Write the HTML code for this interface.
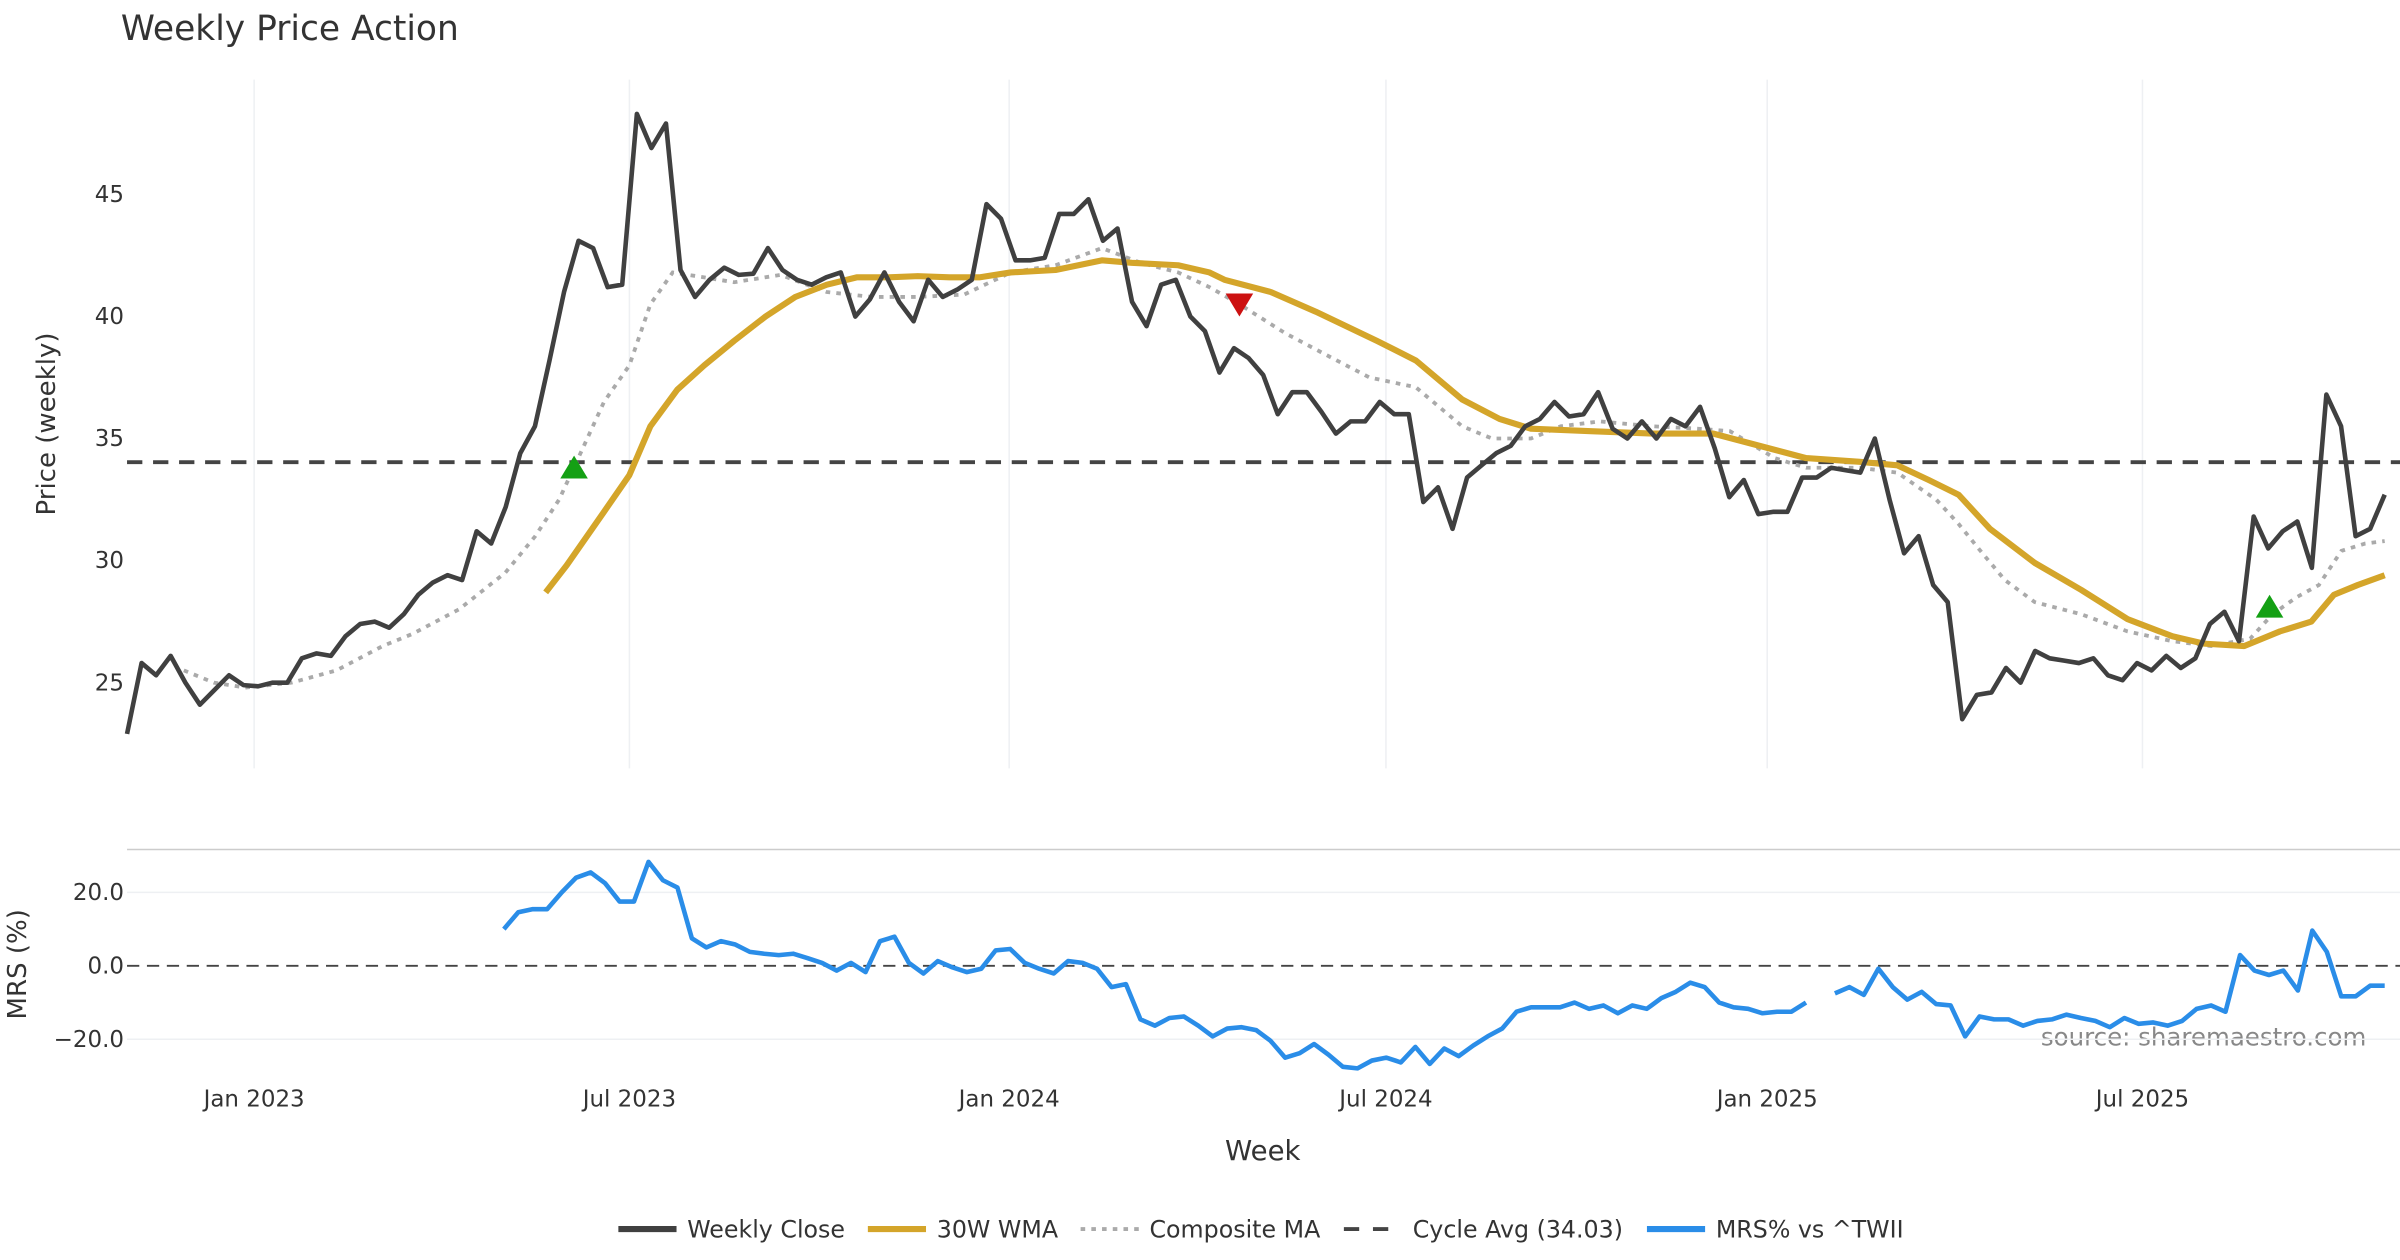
<!DOCTYPE html>
<html><head><meta charset="utf-8">
<style>
html,body{margin:0;padding:0;background:#fff;}
svg{display:block;font-family:"DejaVu Sans","Liberation Sans",sans-serif;}
</style></head>
<body>
<svg id="chart" width="2400" height="1260" viewBox="0 0 1568 823.2" xmlns="http://www.w3.org/2000/svg">
<text x="79" y="26" font-size="22.5" fill="#333">Weekly Price Action</text>
<text transform="translate(36,277) rotate(-90)" text-anchor="middle" font-size="17" fill="#333">Price (weekly)</text>
<text transform="translate(17,630) rotate(-90)" text-anchor="middle" font-size="17" fill="#333">MRS (%)</text>
<text x="825" y="758" text-anchor="middle" font-size="18" fill="#333">Week</text>
<text x="1546" y="683" text-anchor="end" font-size="16" fill="#888">source: sharemaestro.com</text>
<line x1="83" y1="555" x2="1568" y2="555" stroke="#ccc" stroke-width="1"/>
<g id="grid"></g>
<g id="series"></g>
<g id="legend"></g>
</svg>
<script>
const closeVals=[22.9,25.8,25.3,26.1,25,24.1,24.7,25.3,24.9,24.85,25,25,26.0,26.2,26.1,26.9,27.4,27.5,27.25,27.8,28.6,29.1,29.4,29.2,31.2,30.7,32.2,34.4,35.5,38.2,41,43.1,42.8,41.2,41.3,48.3,46.9,47.9,41.9,40.8,41.5,42,41.7,41.75,42.8,41.9,41.5,41.3,41.6,41.8,40,40.7,41.8,40.6,39.8,41.5,40.8,41.1,41.5,44.6,44,42.3,42.3,42.4,44.2,44.2,44.8,43.1,43.6,40.6,39.6,41.3,41.5,40.0,
39.4,37.7,38.7,38.3,37.6,36,36.9,36.9,36.1,35.2,35.7,35.7,36.5,36,36,32.4,33,31.3,33.4,33.9,34.4,34.7,35.5,35.8,36.5,35.9,36,36.9,35.4,35,35.7,35,35.8,35.5,36.3,34.6,32.6,33.3,31.9,32,32,33.4,33.4,33.8,33.7,33.6,35,32.5,30.3,31,29,28.3,23.5,24.5,24.6,25.6,25,26.3,26,25.9,25.8,26,25.3,25.1,25.8,25.5,26.1,25.6,26,27.4,27.9,26.7,31.8,30.5,31.2,31.6,29.7,36.8,35.5,31,31.3,32.7];
const wmaWeeks=[28,29.4,31.9,33.6,35,36.8,38.6,40.6,42.7,44.7,46.8,48.8,50.9,52.9,55,57,59.1,62.1,65.2,67.2,70.3,72.4,73.4,76.5,79.5,83.6,86.2,89.3,91.8,93.9,97.9,102,106.1,109.2,112.3,115.9,118.4,120.5,122.5,124.6,127.6,130.7,133.8,136.8,138.9,141.6,144,146.1,147.6,149.2,151];
const wmaVals=[28.7,29.8,32,33.5,35.5,37,38,39,40,40.8,41.3,41.6,41.6,41.65,41.6,41.6,41.8,41.9,42.3,42.2,42.1,41.8,41.5,41,40.2,39,38.2,36.6,35.8,35.4,35.3,35.2,35.2,34.7,34.2,34.05,33.9,33.3,32.7,31.3,29.9,28.8,27.6,26.9,26.6,26.5,27.1,27.5,28.6,29,29.4];
const compWeeks=[3.8,5.8,7.9,11,14,17.1,19.1,22.2,25.3,27.3,28.9,30.4,31.9,33.6,35,36.5,38.6,40.6,43.7,46.8,49.8,52.9,56,59.1,62.1,65.2,67.8,70.3,72.4,74.4,77.5,80.6,83.1,86.2,89.3,91.3,93.9,95.9,98.5,102,105.1,107.2,110.2,112.3,115.9,118.4,121,122.5,124.1,125.6,127.6,130.7,133.8,136.8,139.4,142,143.5,145.1,146.6,148.1,149.7,151];
const compVals=[25.5,25,24.8,25,25.5,26.5,27,28,29.5,31,32.5,34.5,36.5,38,40.5,41.8,41.6,41.4,41.7,41,40.8,40.8,40.9,41.8,42.1,42.8,42.2,41.8,41.2,40.5,39.3,38.3,37.5,37.1,35.5,35,35,35.5,35.7,35.5,35.4,35.3,34.2,33.8,33.8,33.6,32.5,31.5,30.3,29.2,28.3,27.8,27.1,26.7,26.5,26.8,27.8,28.5,29,30.4,30.7,30.8];
const mrsVals=[10,14.6,15.4,15.4,20,24,25.4,22.5,17.5,17.5,28.3,23.3,21.3,7.5,5,6.7,5.8,3.8,3.3,2.9,3.3,2.1,0.8,-1.3,0.8,-1.7,6.7,7.9,0.8,-2.1,1.3,-0.4,-1.7,-0.8,4.2,4.6,0.8,-0.8,-2.1,1.3,0.8,-0.8,-5.8,-5,-14.6,-16.3,-14.2,-13.8,-16.3,-19.2,-17.1,-16.7,-17.5,-20.4,-25,-23.8,-21.3,-24.2,-27.5,-27.9,-25.8,-25,-26.3,-22.1,-26.7,-22.5,-24.6,-21.7,-19.2,-17.1,-12.5,-11.3,-11.3,-11.3,-10,-11.7,-10.8,-12.9,-10.8,-11.7,-8.8,-7.1,-4.6,-5.8,-10,-11.3,-11.7,-12.9,-12.5,-12.5,-10,null,-7.5,-5.8,-7.9,-0.8,-5.8,-9.2,-7.1,-10.4,-10.8,-19.2,-13.8,-14.6,-14.6,-16.3,-15,-14.6,-13.3,-14.2,-15,-16.7,-14.2,-15.8,-15.4,-16.3,-15,-11.7,-10.8,-12.5,2.9,-1.3,-2.5,-1.3,-6.7,9.6,3.8,-8.3,-8.3,-5.4,-5.4];
const mrsStartWeek=25.2;
const cycleAvg=34.03;
const buyWeeks=[29.9,143.3];
const buyVals=[33.8,28.1];
const sellWeeks=[74.4];
const sellVals=[40.5];
const priceTicks=[25,30,35,40,45];
const mrsTicks=[20,0,-20];
const mrsTickLabels=["20.0","0.0","\u221220.0"];
const dateTickWeeks=[8.5,33.6,59,84.2,109.7,134.8];
const dateTickLabels=["Jan 2023","Jul 2023","Jan 2024","Jul 2024","Jan 2025","Jul 2025"];

const NS="http://www.w3.org/2000/svg";
const X0=83,X1=1558,WMAX=151;
const xs=w=>X0+(w/WMAX)*(X1-X0);
const ys=v=>446-(v-25)*15.95;
const ym=v=>631-v*2.4;
function mk(tag,attrs,parent){const e=document.createElementNS(NS,tag);for(const k in attrs)e.setAttribute(k,attrs[k]);parent.appendChild(e);return e;}
const grid=document.getElementById('grid'),ser=document.getElementById('series'),leg=document.getElementById('legend');

dateTickWeeks.forEach((w,i)=>{
  const l=mk('line',{x1:xs(w),x2:xs(w),y1:52,y2:502,stroke:'#eef0f3','stroke-width':1},grid);
  
  
  const t=mk('text',{x:xs(w),y:723,'text-anchor':'middle','font-size':15,fill:'#333'},grid);
  t.textContent=dateTickLabels[i];
  
  
});
priceTicks.forEach(v=>{
  const t=mk('text',{x:81,y:ys(v)+5,'text-anchor':'end','font-size':15,fill:'#333'},grid);
  t.textContent=v;
  
  
});
mrsTicks.forEach((v,i)=>{
  if(v!==0){const l=mk('line',{x1:83,x2:1568,y1:ym(v),y2:ym(v),stroke:'#eef0f3','stroke-width':1},grid);
  
  }
  const t=mk('text',{x:81,y:ym(v)+5,'text-anchor':'end','font-size':15,fill:'#333'},grid);
  t.textContent=mrsTickLabels[i];
  
  
});
const z=mk('line',{x1:83,x2:1568,y1:ym(0),y2:ym(0),stroke:'#444','stroke-width':1.3,'stroke-dasharray':'8,5'},grid);


const ca=mk('line',{x1:83,x2:1568,y1:ys(cycleAvg),y2:ys(cycleAvg),stroke:'#444','stroke-width':2.5,'stroke-dasharray':'10,7'},ser);



function pathFrom(xsArr,vals,yf){let d='',pen=false;vals.forEach((v,i)=>{if(v===null){pen=false;return;}d+=(pen?'L':'M')+xsArr[i].toFixed(1)+','+yf(v).toFixed(1);pen=true;});return d;}
const cp=mk('path',{d:pathFrom(compWeeks.map(xs),compVals,ys),fill:'none',stroke:'#aaa','stroke-width':2.5,'stroke-dasharray':'3,4'},ser);


const wp=mk('path',{d:pathFrom(wmaWeeks.map(xs),wmaVals,ys),fill:'none',stroke:'#d4a52a','stroke-width':4,'stroke-linejoin':'round'},ser);


const closeX=closeVals.map((v,i)=>xs(i*WMAX/(closeVals.length-1)));
const clp=mk('path',{d:pathFrom(closeX,closeVals,ys),fill:'none',stroke:'#404040','stroke-width':3,'stroke-linejoin':'round'},ser);


const mrsX=mrsVals.map((v,i)=>xs(mrsStartWeek+i*(WMAX-mrsStartWeek)/(mrsVals.length-1)));
const mp=mk('path',{d:pathFrom(mrsX,mrsVals,ym),fill:'none',stroke:'#2a8de8','stroke-width':3,'stroke-linejoin':'round'},ser);


buyWeeks.forEach((w,i)=>{const x=xs(w),y=ys(buyVals[i]);
  const p=mk('polygon',{points:`${x-9},${y+7} ${x+9},${y+7} ${x},${y-8}`,fill:'#14a014'},ser);
  
  });
sellWeeks.forEach((w,i)=>{const x=xs(w),y=ys(sellVals[i]);
  const p=mk('polygon',{points:`${x-9},${y-7} ${x+9},${y-7} ${x},${y+8}`,fill:'#cc1111'},ser);
  
  });

const legItems=[["Weekly Close","#404040",null,404],["30W WMA","#d4a52a",null,567],["Composite MA","#aaa","3,4",706],["Cycle Avg (34.03)","#444","10,9",878],["MRS% vs ^TWII","#2a8de8",null,1076]];
legItems.forEach(it=>{
  const g=mk('g',{},leg);
  
  
  const a={x1:it[3],x2:it[3]+38,y1:803,y2:803,stroke:it[1],'stroke-width':it[2]?2.5:4};
  if(it[2])a['stroke-dasharray']=it[2];
  mk('line',a,g);
  const t=mk('text',{x:it[3]+45,y:808.5,'font-size':15.5,fill:'#333'},g);
  t.textContent=it[0];
});
</script>
</body></html>
